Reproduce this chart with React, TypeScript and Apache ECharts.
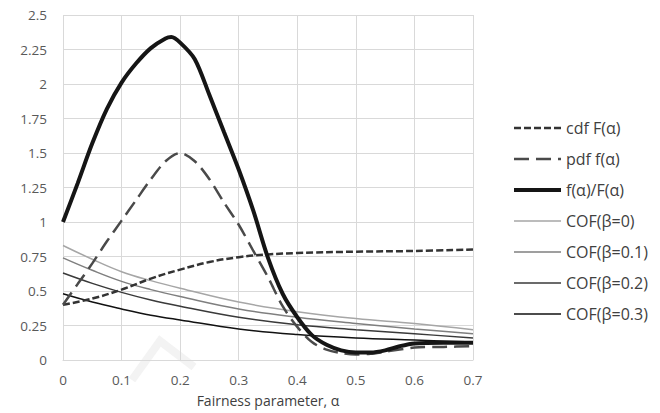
import React, { useEffect, useRef } from "react";
import * as echarts from "echarts";

const xTicks = ["0", "0.1", "0.2", "0.3", "0.4", "0.5", "0.6", "0.7"];

const cdfAlpha = [0, 0.05, 0.1, 0.15, 0.2, 0.25, 0.3, 0.35, 0.4, 0.5, 0.6, 0.7];
const cdfValues = [0.4, 0.445, 0.51, 0.59, 0.655, 0.71, 0.745, 0.765, 0.775, 0.785, 0.79, 0.8];

const pdfAlpha = [0, 0.025, 0.05, 0.075, 0.1, 0.125, 0.15, 0.175, 0.2, 0.225, 0.25, 0.275, 0.3, 0.325, 0.35, 0.375, 0.4, 0.425, 0.45, 0.475, 0.5, 0.525, 0.55, 0.6, 0.65, 0.7];
const pdfValues = [0.4, 0.55, 0.7, 0.86, 1.01, 1.16, 1.31, 1.44, 1.5, 1.44, 1.31, 1.14, 0.98, 0.79, 0.6, 0.39, 0.24, 0.13, 0.075, 0.05, 0.04, 0.045, 0.06, 0.09, 0.095, 0.1];

const ratioAlpha = [0, 0.025, 0.05, 0.075, 0.1, 0.125, 0.15, 0.175, 0.185, 0.2, 0.225, 0.25, 0.275, 0.3, 0.325, 0.35, 0.375, 0.4, 0.425, 0.45, 0.475, 0.5, 0.525, 0.55, 0.575, 0.6, 0.65, 0.7];
const ratioValues = [1.0, 1.28, 1.57, 1.82, 2.01, 2.15, 2.26, 2.33, 2.34, 2.3, 2.18, 1.92, 1.65, 1.38, 1.08, 0.74, 0.48, 0.31, 0.18, 0.11, 0.07, 0.055, 0.055, 0.07, 0.1, 0.12, 0.125, 0.125];

const cofAlpha = [0, 0.05, 0.1, 0.15, 0.2, 0.3, 0.4, 0.5, 0.6, 0.7];
const cof0 = [0.83, 0.73, 0.64, 0.575, 0.52, 0.42, 0.35, 0.3, 0.265, 0.22];
const cof01 = [0.74, 0.65, 0.57, 0.51, 0.46, 0.37, 0.31, 0.265, 0.225, 0.19];
const cof02 = [0.63, 0.555, 0.49, 0.435, 0.39, 0.31, 0.255, 0.22, 0.19, 0.16];
const cof03 = [0.48, 0.42, 0.37, 0.325, 0.29, 0.225, 0.185, 0.16, 0.145, 0.13];

const seriesNames = [
  "cdf F(α)",
  "pdf f(α)",
  "f(α)/F(α)",
  "COF(β=0)",
  "COF(β=0.1)",
  "COF(β=0.2)",
  "COF(β=0.3)",
];

function pairs(xs: number[], ys: number[]) {
  return xs.map((x, i) => [x, ys[i]]);
}

export default function App() {
  const ref = useRef<HTMLDivElement>(null);
  useEffect(() => {
    if (!ref.current) return;
    const chart = echarts.init(ref.current, null, { renderer: "svg" });
    const font = "'Open Sans', sans-serif";
    const mk = (name: string, data: number[][], color: string, width: number, type: any, smooth = 0.35) => ({
      name,
      type: "line",
      data,
      smooth,
      symbol: "none",
      lineStyle: { color, width, type },
      itemStyle: { color },
    });
    const series = [
      mk(seriesNames[0], pairs(cdfAlpha, cdfValues), "#333333", 2.5, [7, 3], 0.4),
      mk(seriesNames[1], pairs(pdfAlpha, pdfValues), "#4a4a4a", 2.5, [15, 7], 0.3),
      mk(seriesNames[2], pairs(ratioAlpha, ratioValues), "#151515", 4, "solid", 0.3),
      mk(seriesNames[3], pairs(cofAlpha, cof0), "#a6a6a6", 1.5, "solid", 0.4),
      mk(seriesNames[4], pairs(cofAlpha, cof01), "#7f7f7f", 1.5, "solid", 0.4),
      mk(seriesNames[5], pairs(cofAlpha, cof02), "#3a3a3a", 1.5, "solid", 0.4),
      mk(seriesNames[6], pairs(cofAlpha, cof03), "#111111", 1.5, "solid", 0.4),
    ].map((s, i) => ({ ...s, z: i < 3 ? 3 : 2 }));
    chart.setOption({
      animation: false,
      backgroundColor: "#ffffff",
      grid: { left: 63, right: 187, top: 15, bottom: 53, containLabel: false },
      graphic: [
        {
          type: "polyline",
          z: 0,
          shape: { points: [[132, 380], [160, 341], [194, 367]] },
          style: { stroke: "#f3f3f3", lineWidth: 8, fill: null },
        },
      ],
      legend: {
        orient: "vertical",
        left: 507,
        top: 115,
        itemWidth: 47,
        itemHeight: 16,
        itemGap: 15,
        itemStyle: { opacity: 0 },
        data: series.map((s) => ({
          name: s.name,
          lineStyle: { width: s.lineStyle.width, type: s.lineStyle.type, color: s.lineStyle.color },
        })),
        textStyle: { fontFamily: font, fontSize: 16, lineHeight: 16, color: "#404040" },
      },
      xAxis: {
        type: "value",
        min: 0,
        max: 0.7,
        interval: 0.1,
        name: "Fairness parameter, α",
        nameLocation: "middle",
        nameGap: 33,
        nameTextStyle: { fontFamily: font, fontSize: 14, color: "#404040" },
        axisLine: { show: true, lineStyle: { color: "#d9d9d9", width: 1 } },
        axisTick: { show: false },
        axisLabel: {
          fontFamily: font,
          fontSize: 13.5,
          color: "#595959",
          margin: 13,
          formatter: (v: number) => xTicks[Math.round(v * 10)] ?? "",
        },
        splitLine: { show: true, lineStyle: { color: "#d9d9d9", width: 1 } },
      },
      yAxis: {
        type: "value",
        min: 0,
        max: 2.5,
        interval: 0.25,
        axisLine: { show: false },
        axisTick: { show: false },
        axisLabel: { fontFamily: font, fontSize: 13.5, color: "#595959", margin: 16 },
        splitLine: { show: true, lineStyle: { color: "#d9d9d9", width: 1 } },
      },
      series,
    });
    return () => chart.dispose();
  }, []);
  return (
    <div
      ref={ref}
      style={{ position: "absolute", left: 0, top: 0, width: 660, height: 413 }}
    />
  );
}
